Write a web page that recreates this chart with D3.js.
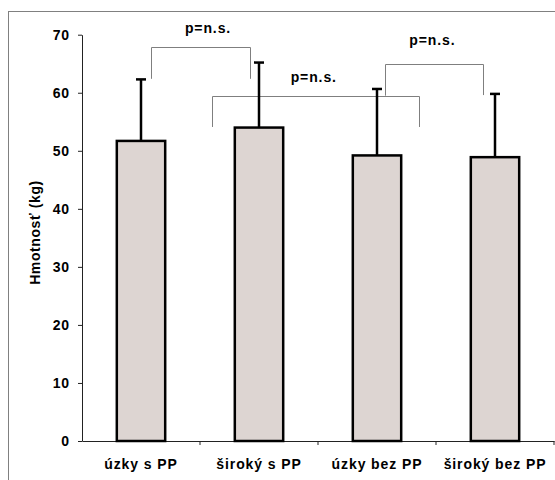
<!DOCTYPE html>
<html>
<head>
<meta charset="utf-8">
<script src="https://cdn.jsdelivr.net/npm/d3@7"></script>
<style>
  body { margin: 0; background: #fff; }
  svg { display: block; }
  text { font-family: "Liberation Sans", Arial, sans-serif; font-weight: bold; font-size: 14px; letter-spacing: 0.9px; fill: #000; }
</style>
</head>
<body>
<svg id="chart" width="555" height="480"></svg>
<script>
const categories = ['úzky s PP', 'široký s PP', 'úzky bez PP', 'široký bez PP'];
const means = [51.7, 54.0, 49.2, 48.9];
const sds = [10.6, 11.2, 11.45, 10.9];
const yTicks = [0, 10, 20, 30, 40, 50, 60, 70];

// significance brackets: ends in category-index units, heights in kg
const bracketFrom = [0.088, 0.598, 2.064];
const bracketTo = [0.923, 2.354, 2.90];
const bracketTop = [67.8, 59.5, 64.9];
const bracketFromEnd = [62.4, 54.1, 59.5];
const bracketToEnd = [62.4, 54.1, 59.6];
const bracketLabelAt = [0.568, 1.464, 2.47];
const bracketLabelY = [70.3, 61.9, 68.3];
const bracketLabels = ['p=n.s.', 'p=n.s.', 'p=n.s.'];

const svg = d3.select('#chart');

// outer frame (runs off the right and bottom edge)
svg.append('rect')
    .attr('x', 8.5)
    .attr('y', 11.5)
    .attr('width', 700)
    .attr('height', 700)
    .attr('fill', 'none')
    .attr('stroke', '#808080');

const x = d3.scaleBand().domain(categories).range([82, 554]).padding(0);
const y = d3.scaleLinear().domain([0, 70]).range([441, 34.7]);
const barWidth = x.bandwidth() * 0.41;
const xIdx = d3.scaleLinear()
    .domain([0, 1])
    .range([x(categories[0]) + x.bandwidth() / 2, x(categories[1]) + x.bandwidth() / 2]);

// y axis
const yAxis = svg.append('g')
    .attr('transform', `translate(${x.range()[0]},0)`)
    .call(d3.axisLeft(y).tickValues(yTicks).tickSize(4).tickPadding(8).tickSizeOuter(0));
yAxis.attr('font-size', null).attr('font-family', null);
yAxis.select('.domain').attr('stroke', '#222');
yAxis.selectAll('.tick line').attr('stroke', '#222');

// x axis
const xAxis = svg.append('g')
    .attr('transform', `translate(0,${y(0)})`)
    .call(d3.axisBottom(x).tickSize(0).tickPadding(18).tickSizeOuter(0));
xAxis.attr('font-size', null).attr('font-family', null);
xAxis.select('.domain').attr('stroke', '#222');
xAxis.selectAll('line.sep')
    .data(categories)
  .enter().append('line')
    .attr('class', 'sep')
    .attr('x1', d => x(d) + x.step())
    .attr('x2', d => x(d) + x.step())
    .attr('y1', 0)
    .attr('y2', 4)
    .attr('stroke', '#222');

// brackets
const brackets = svg.append('g')
    .attr('fill', 'none')
    .attr('stroke', '#7f7f7f')
    .attr('stroke-width', 1);
bracketTop.forEach((top, i) => {
    const p = d3.path();
    p.moveTo(Math.round(xIdx(bracketFrom[i])) + 0.5, y(bracketFromEnd[i]));
    p.lineTo(Math.round(xIdx(bracketFrom[i])) + 0.5, Math.round(y(top)) + 0.5);
    p.lineTo(Math.round(xIdx(bracketTo[i])) + 0.5, Math.round(y(top)) + 0.5);
    p.lineTo(Math.round(xIdx(bracketTo[i])) + 0.5, y(bracketToEnd[i]));
    brackets.append('path').attr('d', p.toString());
});

// bars
svg.append('g')
    .selectAll('rect')
    .data(means)
  .enter().append('rect')
    .attr('x', (d, i) => x(categories[i]) + (x.bandwidth() - barWidth) / 2)
    .attr('y', d => y(d))
    .attr('width', barWidth)
    .attr('height', d => y(0) - y(d))
    .attr('fill', '#ddd5d2')
    .attr('stroke', '#000')
    .attr('stroke-width', 2.5);

// error bars
const err = svg.append('g')
    .attr('stroke', '#000')
    .attr('stroke-width', 2.5);
means.forEach((m, i) => {
    const cx = x(categories[i]) + x.bandwidth() / 2;
    err.append('line')
        .attr('x1', cx).attr('x2', cx)
        .attr('y1', y(m)).attr('y2', y(m + sds[i]));
    err.append('line')
        .attr('x1', cx - 5).attr('x2', cx + 5)
        .attr('y1', y(m + sds[i])).attr('y2', y(m + sds[i]));
});

// bracket labels
svg.append('g')
    .selectAll('text')
    .data(bracketLabels)
  .enter().append('text')
    .attr('x', (d, i) => xIdx(bracketLabelAt[i]))
    .attr('y', (d, i) => y(bracketLabelY[i]))
    .attr('text-anchor', 'middle')
    .text(d => d);

// y axis title
svg.append('text')
    .attr('transform', 'rotate(-90)')
    .attr('x', -232.5)
    .attr('y', 40)
    .attr('text-anchor', 'middle')
    .style('letter-spacing', '0.6px')
    .text('Hmotnosť (kg)');
</script>
</body>
</html>
